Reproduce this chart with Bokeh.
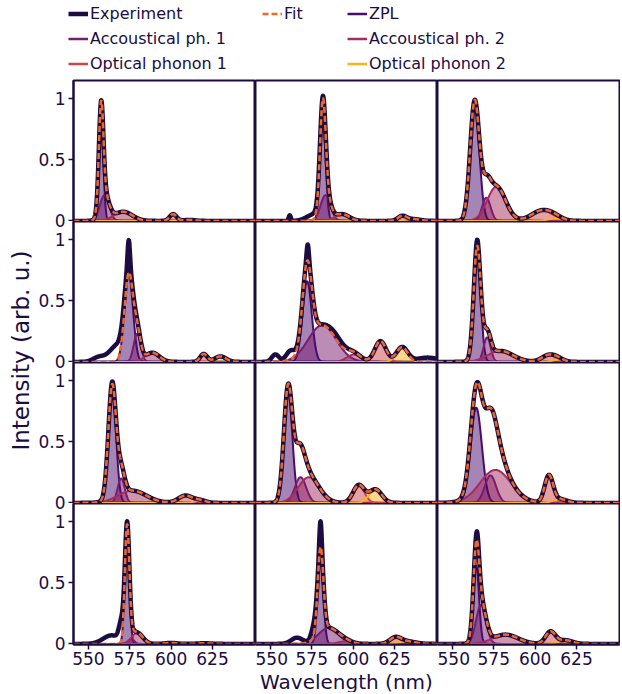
import numpy as np
from bokeh.plotting import figure
from bokeh.layouts import column, row
from bokeh.models import Range1d, Legend, LegendItem, Label, FixedTicker
from bokeh.embed import file_html
from bokeh.resources import INLINE

# ---------------- data ----------------
X_START, X_END = 541.0, 651.0
Y_START, Y_END = -0.005, 1.15
X_TICKS = [550, 575, 600, 625]
X_TICK_LABELS = ["550", "575", "600", "625"]
Y_TICKS = [0, 0.5, 1]
Y_TICK_LABELS = ["0", "0.5", "1"]
X_LABEL = "Wavelength (nm)"
Y_LABEL = "Intensity (arb. u.)"

SERIES = ["Experiment", "Fit", "ZPL", "Accoustical ph. 1", "Accoustical ph. 2",
          "Optical phonon 1", "Optical phonon 2"]

# 12 panels, row-major (4 rows x 3 columns): centre (nm), height, FWHM (nm)
ZPL_CENTER = [557.7, 581.7, 563.5, 574.4, 572.2, 565.0, 564.4, 560.7, 564.4, 573.4, 580.3, 564.4]
ZPL_HEIGHT = [0.82, 0.82, 0.97, 0.72, 0.66, 0.93, 0.93, 0.92, 0.78, 0.95, 0.70, 0.64]
ZPL_FWHM = [3.2, 4.0, 6.5, 6.0, 6.5, 5.0, 5.5, 6.0, 8.0, 3.2, 4.0, 4.0]

AC1_CENTER = [559.7, 583.3, 570.5, 579.5, 581.3, 571.0, 569.8, 568.2, 573.0, 576.0, 585.0, 567.3]
AC1_HEIGHT = [0.21, 0.21, 0.19, 0.23, 0.30, 0.20, 0.20, 0.21, 0.225, 0.04, 0.13, 0.32]
AC1_FWHM = [6.5, 7.0, 6.0, 5.0, 20.0, 5.0, 5.0, 8.0, 8.0, 4.0, 14.0, 7.0]

AC2_CENTER = [571.0, 593.4, 576.6, 588.6, 600.4, 579.0, 576.5, 573.2, 576.0, 579.5, 595.0, 582.0]
AC2_HEIGHT = [0.075, 0.055, 0.28, 0.075, 0.06, 0.09, 0.10, 0.21, 0.27, 0.09, 0.02, 0.076]
AC2_FWHM = [13.0, 10.0, 13.0, 10.0, 10.0, 18.0, 20.0, 15.0, 22.0, 8.0, 10.0, 18.0]

OP1_CENTER = [601.2, 629.6, 604.3, 619.7, 616.5, 608.3, 608.7, 603.4, 608.3, 600.0, 625.6, 609.3]
OP1_HEIGHT = [0.055, 0.038, 0.085, 0.065, 0.17, 0.055, 0.06, 0.145, 0.22, 0.008, 0.05, 0.10]
OP1_FWHM = [5.0, 6.0, 15.0, 5.0, 8.0, 10.0, 10.0, 8.0, 6.0, 8.0, 8.0, 7.0]

OP2_CENTER = [611.0, 636.0, 612.0, 629.8, 629.6, 614.0, 617.7, 613.5, 615.0, 620.0, 632.7, 618.3]
OP2_HEIGHT = [0.008, 0.015, 0.02, 0.045, 0.12, 0.02, 0.02, 0.11, 0.03, 0.005, 0.02, 0.03]
OP2_FWHM = [8.0, 10.0, 10.0, 8.0, 8.0, 8.0, 8.0, 9.0, 10.0, 10.0, 12.0, 10.0]

# contributions to the fit that are not drawn as a separate component
FIT_EXTRA = [[], [], [], [], [], [], [], [(567.0, 0.12, 6.0)], [(574.0, 0.27, 13.0)], [], [], []]
# features of the measured spectrum not captured by the fit
EXP_EXTRA = [
    [],
    [(561.7, 0.045, 1.5), (576.0, 0.05, 10.0)],
    [],
    [(574.4, 0.20, 1.6), (568.0, 0.14, 12.0), (556.0, 0.035, 8.0)],
    [(572.6, 0.13, 1.6), (553.0, 0.06, 5.0), (562.0, 0.07, 6.0), (590.0, 0.04, 10.0), (645.0, 0.035, 16.0)],
    [(565.0, 0.05, 1.8)],
    [(564.4, 0.02, 2.0)],
    [],
    [],
    [(564.0, 0.07, 12.0), (570.0, 0.15, 3.5)],
    [(580.3, 0.20, 1.6), (566.0, 0.05, 8.0), (576.5, 0.10, 4.0)],
    [(565.0, 0.07, 2.0)],
]

# ---------------- style ----------------
FONT = "DejaVu Sans"
INK = "#1b0c41"
C_EXP = "#1b0c41"
C_FIT = "#ed6925"
C_COMP = ["#4a0c6b", "#781c6d", "#a52c60", "#cf4446", "#fbb21a"]
COMP_PARAMS = [
    (ZPL_CENTER, ZPL_HEIGHT, ZPL_FWHM),
    (AC1_CENTER, AC1_HEIGHT, AC1_FWHM),
    (AC2_CENTER, AC2_HEIGHT, AC2_FWHM),
    (OP1_CENTER, OP1_HEIGHT, OP1_FWHM),
    (OP2_CENTER, OP2_HEIGHT, OP2_FWHM),
]

wl = np.linspace(X_START, X_END, 1101)


def peak(c, h, w):
    s = w / 2.3548
    return h * np.exp(-0.5 * ((wl - c) / s) ** 2)


FRAME_W, FRAME_H = 182, 141
YLAB_W, LEFT_B, BOTTOM_B = 67, 6, 26
LEG_H, XLAB_H = 79, 22
TICK_OUT = 5

grid_rows = []
for r in range(4):
    figs = []
    for cidx in range(3):
        i = r * 3 + cidx
        p = figure(frame_width=FRAME_W, frame_height=FRAME_H,
                   x_range=Range1d(X_START, X_END), y_range=Range1d(Y_START, Y_END),
                   output_backend="svg", toolbar_location=None, min_border=0,
                   x_axis_location="below" if r == 3 else None,
                   y_axis_location="left" if cidx == 0 else None)
        p.min_border_left = LEFT_B if cidx == 0 else 0
        p.min_border_right = 1 if cidx == 2 else 0
        p.min_border_top = 1 if r == 0 else 0
        p.min_border_bottom = BOTTOM_B if r == 3 else 0
        p.xgrid.visible = False
        p.ygrid.visible = False
        p.outline_line_color = INK
        p.outline_line_width = 2
        p.outline_line_alpha = 1
        p.background_fill_color = "white"
        p.border_fill_color = "white"

        comps = [peak(cen[i], hei[i], fw[i]) for (cen, hei, fw) in COMP_PARAMS]
        fit = np.sum(comps, axis=0)
        for (c0, h0, w0) in FIT_EXTRA[i]:
            fit = fit + peak(c0, h0, w0)
        exp = fit.copy()
        for (c0, h0, w0) in EXP_EXTRA[i]:
            exp = exp + peak(c0, h0, w0)

        for k, comp in enumerate(comps):
            p.varea(x=wl, y1=np.zeros_like(wl), y2=comp, fill_color=C_COMP[k], fill_alpha=0.5)
        for k, comp in enumerate(comps):
            p.line(wl, comp, line_color=C_COMP[k], line_width=2, line_join="round")
        p.line(wl, exp, line_color=C_EXP, line_width=4.5, line_join="round", line_cap="round")
        p.line(wl, fit, line_color=C_FIT, line_width=2.5, line_dash="6 3")

        for ax in (p.xaxis + p.yaxis):
            ax.axis_line_color = INK
            ax.axis_line_width = 2
            ax.major_tick_line_color = INK
            ax.major_tick_line_width = 1.5
            ax.major_tick_out = TICK_OUT
            ax.major_tick_in = 0
            ax.minor_tick_line_color = None
            ax.major_label_text_font = FONT
            ax.major_label_text_font_size = "17px"
            ax.major_label_text_color = INK
            ax.major_label_standoff = 2
        if r == 3:
            p.xaxis.ticker = FixedTicker(ticks=X_TICKS)
            p.xaxis.major_label_overrides = {float(t): l for t, l in zip(X_TICKS, X_TICK_LABELS)}
        if cidx == 0:
            # tick marks here; the tick labels are written in the strip at the left,
            # so that labels sitting on a panel edge are not clipped
            p.yaxis.ticker = FixedTicker(ticks=Y_TICKS)
            p.yaxis.major_label_overrides = {float(t): "" for t in Y_TICKS}
            p.yaxis.major_label_standoff = 0
        figs.append(p)
    grid_rows.append(row(*figs, spacing=0))

grid = column(*grid_rows, spacing=0)

GRID_H = 1 + 4 * FRAME_H + BOTTOM_B
TOTAL_W = YLAB_W + LEFT_B + 3 * FRAME_W + 1

# left strip: y tick labels of every row and the y label
ylab = figure(width=YLAB_W, height=GRID_H, x_range=Range1d(0, YLAB_W), y_range=Range1d(0, GRID_H),
              output_backend="svg", toolbar_location=None, min_border=0,
              x_axis_location=None, y_axis_location=None, outline_line_color=None)
ylab.xgrid.visible = False
ylab.ygrid.visible = False
for r in range(4):
    frame_bottom = BOTTOM_B + (3 - r) * FRAME_H
    for t, lab in zip(Y_TICKS, Y_TICK_LABELS):
        ypix = frame_bottom + (t - Y_START) / (Y_END - Y_START) * FRAME_H
        ylab.add_layout(Label(x=YLAB_W - 2, y=ypix, text=lab,
                              text_align="right", text_baseline="middle",
                              text_font=FONT, text_font_size="17px", text_color=INK))
ylab.add_layout(Label(x=20, y=GRID_H - 271, text=Y_LABEL, angle=np.pi / 2,
                      text_align="center", text_baseline="middle",
                      text_font=FONT, text_font_size="23px", text_color=INK))

# x label
xlab = figure(width=TOTAL_W, height=XLAB_H, x_range=Range1d(0, TOTAL_W), y_range=Range1d(0, XLAB_H),
              output_backend="svg", toolbar_location=None, min_border=0,
              x_axis_location=None, y_axis_location=None, outline_line_color=None)
xlab.xgrid.visible = False
xlab.ygrid.visible = False
xlab.add_layout(Label(x=346, y=XLAB_H / 2, text=X_LABEL, text_align="center", text_baseline="middle",
                      text_font=FONT, text_font_size="20px", text_color=INK))

# legend
leg = figure(width=TOTAL_W, height=LEG_H, x_range=Range1d(0, 1), y_range=Range1d(0, 1),
             output_backend="svg", toolbar_location=None, min_border=0,
             x_axis_location=None, y_axis_location=None, outline_line_color=None)
leg.xgrid.visible = False
leg.ygrid.visible = False
NAN = [np.nan]
r_exp = leg.line(x=NAN, y=NAN, line_color=C_EXP, line_width=4.5)
r_fit = leg.line(x=NAN, y=NAN, line_color=C_FIT, line_width=2.5, line_dash="6 3")
r_comp = [leg.line(x=NAN, y=NAN, line_color=col, line_width=2.5) for col in C_COMP]

ITEM_H, ITEM_GAP, LEG_TOP = 19, 6, 4


def add_legend(items, x):
    n = len(items)
    h = n * ITEM_H + (n - 1) * ITEM_GAP
    lg = Legend(items=items, location=(x, LEG_H - LEG_TOP - h), orientation="vertical",
                label_text_font=FONT, label_text_font_size="16px", label_text_color=INK,
                glyph_width=20, glyph_height=ITEM_H, label_height=ITEM_H, label_standoff=2,
                spacing=ITEM_GAP, padding=0, margin=0, border_line_color=None,
                background_fill_alpha=0)
    leg.add_layout(lg)


add_legend([LegendItem(label=SERIES[0], renderers=[r_exp]),
            LegendItem(label=SERIES[3], renderers=[r_comp[1]]),
            LegendItem(label=SERIES[5], renderers=[r_comp[3]])], 68)
add_legend([LegendItem(label=SERIES[1], renderers=[r_fit])], 262)
add_legend([LegendItem(label=SERIES[2], renderers=[r_comp[0]]),
            LegendItem(label=SERIES[4], renderers=[r_comp[2]]),
            LegendItem(label=SERIES[6], renderers=[r_comp[4]])], 347)

layout = column(leg, row(ylab, grid, spacing=0), xlab, spacing=0)

open("out.html", "w").write(file_html(layout, INLINE))
